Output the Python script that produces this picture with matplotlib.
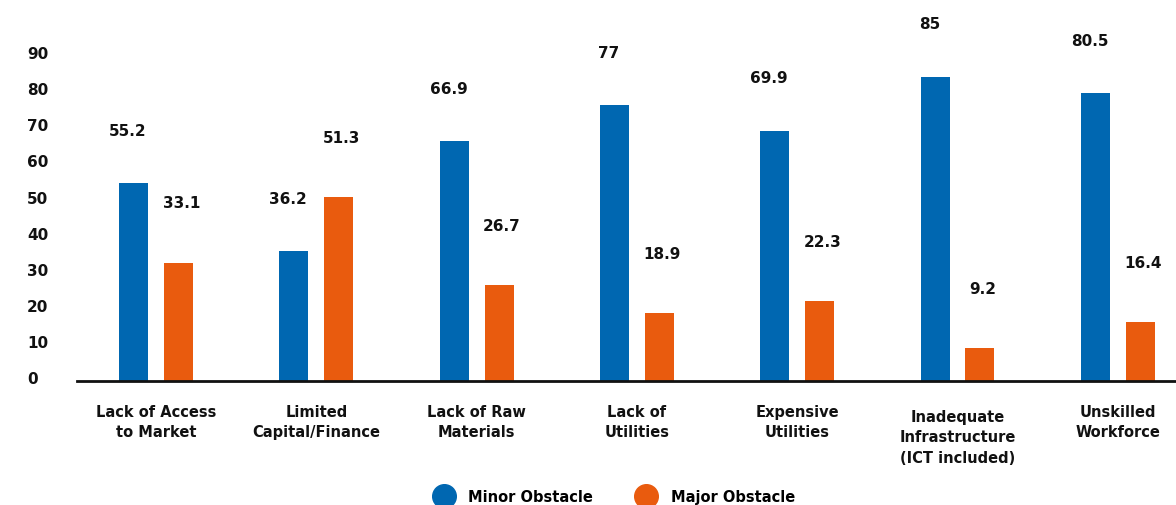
import matplotlib
matplotlib.use("Agg")
import matplotlib.pyplot as plt
import matplotlib.transforms as mtransforms
from matplotlib.lines import Line2D
import numpy as np

# --- Data ---
categories = [
    "Lack of Access\nto Market",
    "Limited\nCapital/Finance",
    "Lack of Raw\nMaterials",
    "Lack of\nUtilities",
    "Expensive\nUtilities",
    "Inadequate\nInfrastructure\n(ICT included)",
    "Unskilled\nWorkforce",
]
minor_obstacle = [55.2, 36.2, 66.9, 77, 69.9, 85, 80.5]
major_obstacle = [33.1, 51.3, 26.7, 18.9, 22.3, 9.2, 16.4]
yticks = [0, 10, 20, 30, 40, 50, 60, 70, 80, 90]

BLUE = "#0067B1"
ORANGE = "#E95B0E"
INK = "#111111"

plt.rcParams["font.family"] = ["DejaVu Sans"]
plt.rcParams["font.weight"] = "bold"

W, H = 1176, 506
fig = plt.figure(figsize=(W / 100, H / 100), dpi=100)
# axes: baseline at y=382 px, from x=77 px to the right edge
ax = fig.add_axes([77 / W, (H - 382) / H, 1 - 77 / W, 382 / H])

px_per_unit = 3.58
ax.set_ylim(0, 382 / px_per_unit)
ax.set_xlim(-0.493, 6.363)

x = np.arange(len(categories))
bar_w = 0.181
shift = 0.14
ax.bar(x - shift, minor_obstacle, width=bar_w, color=BLUE, zorder=2)
ax.bar(x + shift, major_obstacle, width=bar_w, color=ORANGE, zorder=2)

# value labels float well above each bar
for xi, v in zip(x, minor_obstacle):
    ax.annotate(f"{v:g}", (xi - shift, v), xytext=(-4, 38), textcoords="offset points",
                ha="center", va="center", fontsize=11, fontweight="bold", color=INK)
for xi, v in zip(x, major_obstacle):
    ax.annotate(f"{v:g}", (xi + shift, v), xytext=(2, 43), textcoords="offset points",
                ha="center", va="center", fontsize=11, fontweight="bold", color=INK)

# axis styling: only the baseline stays
for side in ("left", "right", "top"):
    ax.spines[side].set_visible(False)
ax.spines["bottom"].set_linewidth(2.0)
ax.spines["bottom"].set_color(INK)
ax.set_yticks([])
ax.set_xticks([])

# y tick labels, left-aligned near the figure edge
ytrans = mtransforms.blended_transform_factory(fig.transFigure, ax.transData)
for t in yticks:
    ax.text(27 / W, t * 1.01 + 0.6, str(t), transform=ytrans, ha="left", va="center",
            fontsize=11, fontweight="bold", color=INK, clip_on=False)

# category labels under the baseline
xtrans = mtransforms.blended_transform_factory(ax.transData, fig.transFigure)
for xi, label in zip(x, categories):
    top = 405 if label.count("\n") == 1 else 410
    ax.text(xi, 1 - top / H, label, transform=xtrans, ha="center", va="top",
            fontsize=10.5, fontweight="bold", color=INK, linespacing=1.45, clip_on=False)

# legend along the bottom edge
handles = [
    Line2D([], [], marker="o", linestyle="none", markersize=17, color=BLUE),
    Line2D([], [], marker="o", linestyle="none", markersize=17, color=ORANGE),
]
fig.legend(handles, ["Minor Obstacle", "Major Obstacle"], loc="center",
           bbox_to_anchor=(612 / W, 8 / H), ncol=2, frameon=False,
           handletextpad=0.7, columnspacing=2.6,
           prop={"size": 10.5, "weight": "bold"})

fig.savefig("out.png", dpi=100)
